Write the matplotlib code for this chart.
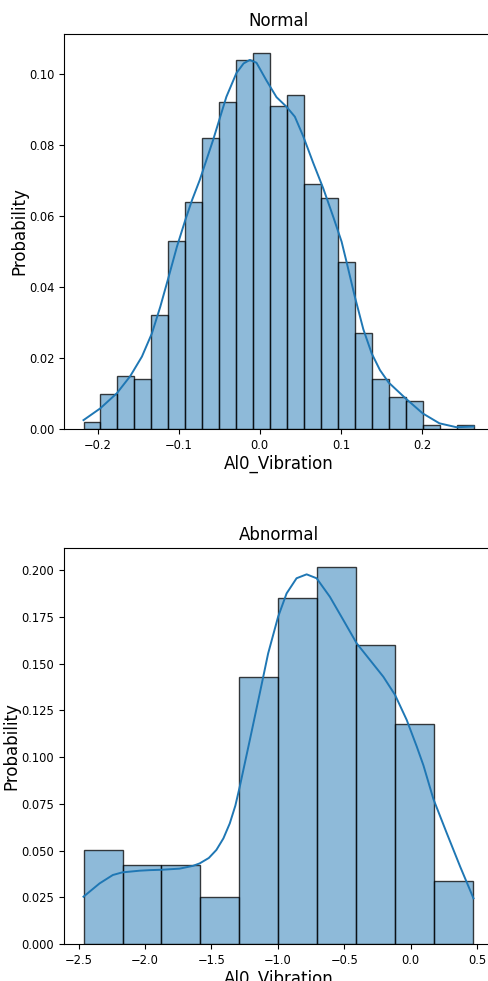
import numpy as np
import matplotlib
matplotlib.use("Agg")
import matplotlib.pyplot as plt

# ---------------- data ----------------
normal_range = (-0.2173, 0.2634)
normal_probs = [0.002, 0.010, 0.015, 0.014, 0.032, 0.053, 0.064, 0.082, 0.092,
                0.104, 0.106, 0.091, 0.094, 0.069, 0.065, 0.047, 0.027, 0.014,
                0.009, 0.008, 0.001, 0.000, 0.001]
normal_kde_x = [-0.2173, -0.1967, -0.1761, -0.1597, -0.1453, -0.1329, -0.1226,
                -0.1123, -0.1021, -0.0918, -0.0835, -0.0741, -0.0576, -0.0412,
                -0.0288, -0.0200, -0.0123, -0.0041, 0.0082, 0.0206, 0.0329,
                0.0432, 0.0535, 0.0658, 0.0782, 0.0905, 0.1008, 0.1070, 0.1169,
                0.1276, 0.1379, 0.1481, 0.1588, 0.1798, 0.2008, 0.2214, 0.2424,
                0.2634]
normal_kde_y = [0.0025, 0.0058, 0.0101, 0.0149, 0.0204, 0.0270, 0.0345, 0.0429,
                0.0514, 0.0589, 0.0645, 0.0701, 0.0814, 0.0936, 0.1003, 0.1030,
                0.1040, 0.1032, 0.0982, 0.0935, 0.0908, 0.0880, 0.0825, 0.0750,
                0.0678, 0.0598, 0.0528, 0.0470, 0.0375, 0.0281, 0.0213, 0.0166,
                0.0131, 0.0086, 0.0044, 0.0016, 0.0005, 0.0007]

abnormal_range = (-2.464, 0.474)
abnormal_probs = [0.0504, 0.0420, 0.0420, 0.0252, 0.1429, 0.1849, 0.2017,
                  0.1597, 0.1176, 0.0336]
abnormal_kde_x = [-2.464, -2.343, -2.243, -2.172, -2.042, -1.966, -1.878, -1.740,
                  -1.639, -1.589, -1.520, -1.463, -1.410, -1.362, -1.320, -1.287,
                  -1.211, -1.136, -1.073, -0.998, -0.934, -0.859, -0.783, -0.708,
                  -0.608, -0.507, -0.406, -0.306, -0.205, -0.117, -0.029, 0.047,
                  0.097, 0.172, 0.273, 0.374, 0.474]
abnormal_kde_y = [0.0253, 0.0324, 0.0369, 0.0383, 0.0392, 0.0395, 0.0397, 0.0403,
                  0.0418, 0.0431, 0.0460, 0.0503, 0.0565, 0.0645, 0.0740, 0.0841,
                  0.1091, 0.1341, 0.1554, 0.1750, 0.1875, 0.1956, 0.1977, 0.1956,
                  0.1857, 0.1733, 0.1608, 0.1519, 0.1429, 0.1332, 0.1198, 0.1055,
                  0.0955, 0.0775, 0.0592, 0.0413, 0.0244]

titles = ["Normal", "Abnormal"]
xlabel = "Al0_Vibration"
ylabel = "Probability"

# ---------------- plot ----------------
W, H = 489, 981
fig = plt.figure(figsize=(W / 100, H / 100), dpi=100)

def px_axes(left, top, right, bottom):
    return fig.add_axes([left / W, 1 - bottom / H, (right - left) / W, (bottom - top) / H])

ax1 = px_axes(64, 34, 493, 429)
ax2 = px_axes(64, 548, 493, 944)

c0 = "#1f77b4"

def draw(ax, rng, probs, kx, ky, title, ylab_x):
    edges = np.linspace(rng[0], rng[1], len(probs) + 1)
    ax.bar(edges[:-1], probs, width=np.diff(edges), align="edge",
           facecolor=(0.122, 0.467, 0.706, 0.5), edgecolor=(0, 0, 0, 0.75),
           linewidth=1.0)
    ax.plot(kx, ky, color=c0, linewidth=1.4)
    ax.margins(x=0.05)
    ax.set_ylim(0, max(probs) * 1.05)
    ax.set_title(title, fontsize=12)
    ax.set_xlabel(xlabel, fontsize=12, labelpad=2)
    ax.set_ylabel(ylabel, fontsize=12)
    ax.yaxis.set_label_coords(ylab_x, 0.5)
    ax.tick_params(labelsize=8.3)
    ax.spines["right"].set_visible(False)

draw(ax1, normal_range, normal_probs, normal_kde_x, normal_kde_y, titles[0], -0.084)
draw(ax2, abnormal_range, abnormal_probs, abnormal_kde_x, abnormal_kde_y, titles[1], -0.102)

fig.savefig("out.png", dpi=100)
